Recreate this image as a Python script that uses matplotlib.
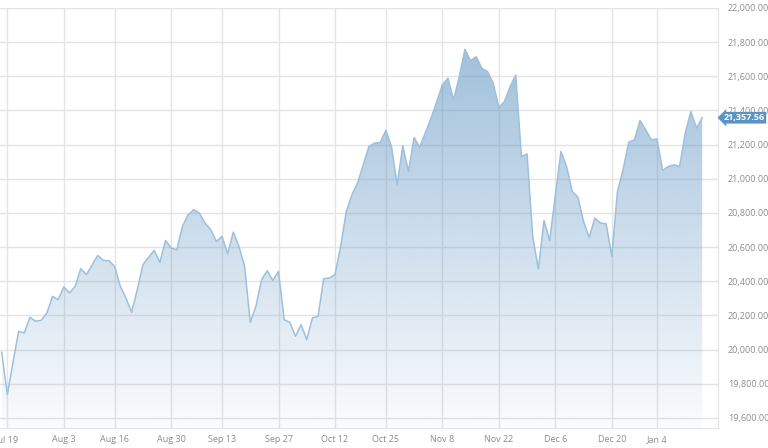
import numpy as np
import matplotlib
matplotlib.use('Agg')
import matplotlib.pyplot as plt
from matplotlib.ticker import FuncFormatter

plt.rcParams['font.family'] = ['Open Sans', 'DejaVu Sans']

# Daily closes (first point is the day before Jul 19)
values = [19984, 19737, 19925, 20107, 20097, 20189, 20166, 20172, 20214, 20312,
          20292, 20367, 20332, 20370, 20474, 20439, 20495, 20551, 20522, 20520,
          20487, 20370, 20302, 20218, 20351, 20497, 20540, 20581, 20511, 20639,
          20595, 20585, 20721, 20790, 20819, 20799, 20741, 20702, 20633, 20663,
          20561, 20688, 20604, 20487, 20160, 20253, 20409, 20462, 20405, 20458,
          20175, 20160, 20078, 20146, 20058, 20185, 20195, 20415, 20419, 20439,
          20604, 20809, 20906, 20975, 21082, 21189, 21209, 21212, 21283, 21189,
          20965, 21193, 21043, 21242, 21185, 21270, 21355, 21450, 21550, 21589,
          21462, 21598, 21758, 21692, 21715, 21647, 21628, 21560, 21419, 21452,
          21540, 21608, 21130, 21146, 20663, 20472, 20756, 20639, 20900, 21160,
          21072, 20926, 20893, 20750, 20657, 20770, 20741, 20737, 20546, 20926,
          21053, 21215, 21228, 21341, 21287, 21228, 21234, 21049, 21072, 21082,
          21072, 21267, 21394, 21297, 21357.56]

# index of the trading day at each date label
tick_idx = [1, 11, 20, 30, 39, 49, 59, 68, 78, 88, 98, 108, 116]
tick_labels = ['Jul 19', 'Aug 3', 'Aug 16', 'Aug 30', 'Sep 13', 'Sep 27', 'Oct 12',
               'Oct 25', 'Nov 8', 'Nov 22', 'Dec 6', 'Dec 20', 'Jan 4']
y_ticks = np.arange(19600, 22001, 200)
last_price = values[-1]

fig = plt.figure(figsize=(7.68, 4.48), dpi=100)
ax = fig.add_axes([0, 20 / 448, 718 / 768, 420 / 448])

x = np.arange(len(values))
ax.set_xlim(-0.3, 126.8)
ax.set_ylim(19541, 22000)
ymin, ymax = ax.get_ylim()

# gradient fill under the line
base = matplotlib.colors.to_rgb('#5d93c2')
grad = np.zeros((256, 1, 4))
grad[:, 0, :3] = base
grad[:, 0, 3] = np.linspace(0.03, 0.64, 256)
im = ax.imshow(grad, extent=[x[0], x[-1], ymin, ymax], origin='lower',
               aspect='auto', zorder=2, interpolation='bilinear')
poly = ax.fill_between(x, values, ymin, facecolor='none', edgecolor='none')
im.set_clip_path(poly.get_paths()[0], transform=ax.transData)

ax.plot(x, values, color='#9dc0dc', lw=1.1, zorder=3)

ax.set_xticks(tick_idx)
ax.set_xticklabels(tick_labels)
ax.set_yticks(y_ticks)
ax.yaxis.set_major_formatter(FuncFormatter(lambda v, p: '{:,.2f}'.format(v)))
ax.yaxis.tick_right()
ax.grid(True, color='#e4e4e4', lw=1)
ax.set_axisbelow(True)
ax.tick_params(axis='both', length=0, labelsize=6.5, labelcolor='#8c8c8c')
ax.tick_params(axis='x', pad=5)
ax.tick_params(axis='y', pad=7)
for s in ['left', 'top']:
    ax.spines[s].set_visible(False)
for s in ['bottom', 'right']:
    ax.spines[s].set_color('#e4e4e4')

# current value tag
ax.text(1.008, last_price, '{:,.2f}'.format(last_price), transform=ax.get_yaxis_transform(),
        ha='left', va='center', fontsize=6.5, fontweight='bold', color='white',
        bbox=dict(boxstyle='larrow,pad=0.15', fc='#5b93c4', ec='none'), zorder=5,
        clip_on=False)

fig.savefig('out.png', dpi=100)
